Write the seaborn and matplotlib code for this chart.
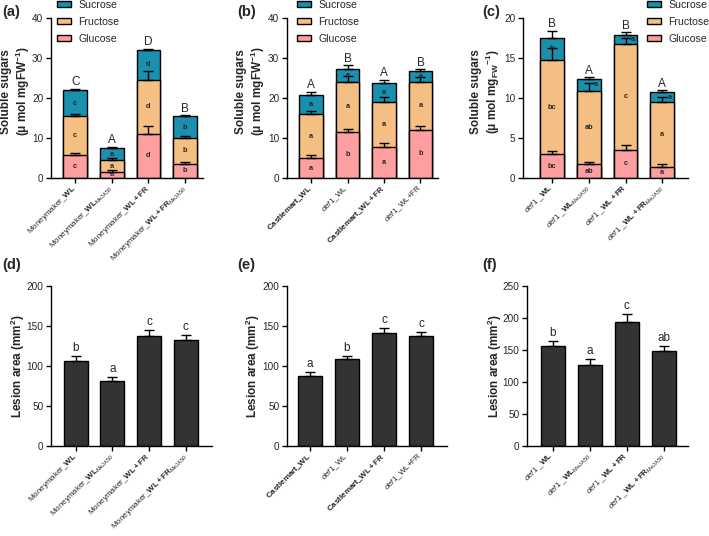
import matplotlib
matplotlib.use("Agg")
import matplotlib.pyplot as plt
from matplotlib.patches import Patch
import seaborn as sns
import numpy as np

sns.set_style("ticks")
plt.rcParams["font.family"] = ["Liberation Sans", "DejaVu Sans"]
plt.rcParams["mathtext.fontset"] = "custom"
plt.rcParams["mathtext.rm"] = "Liberation Sans"
plt.rcParams["mathtext.it"] = "Liberation Sans:italic"
plt.rcParams["mathtext.bf"] = "Liberation Sans:bold"

SUC_C = "#1b8fae"
FRU_C = "#f5bf84"
GLU_C = "#fd9fa1"
LES_C = "#333333"

# ---- tick labels ----
mm_labels = ["Moneymaker_$\\mathbf{WL}$",
             "Moneymaker_$\\mathbf{WL}_{\\mathrm{MeJA50}}$",
             "Moneymaker_$\\mathbf{WL+FR}$",
             "Moneymaker_$\\mathbf{WL+FR}_{\\mathrm{MeJA50}}$"]
cm_labels = ["$\\mathbf{Castlemart\\_WL}$",
             "$\\mathit{def1}$_WL",
             "$\\mathbf{Castlemart\\_WL+FR}$",
             "$\\mathit{def1}$_WL+FR"]
def_labels = ["$\\mathit{def1}$ _$\\mathbf{WL}$",
              "$\\mathit{def1}$ _$\\mathbf{WL}_{\\mathrm{MeJA50}}$",
              "$\\mathit{def1}$ _$\\mathbf{WL+FR}$",
              "$\\mathit{def1}$ _$\\mathbf{WL+FR}_{\\mathrm{MeJA50}}$"]

# ---- (a) sugars, Moneymaker ----
a_glu = [5.8, 1.6, 11.1, 3.6]
a_fru = [9.6, 2.8, 13.5, 6.3]
a_suc = [6.5, 3.1, 7.3, 5.5]
a_glu_err = [0.45, 0.4, 2.0, 0.4]
a_fru_err = [0.6, 0.5, 2.1, 0.5]
a_suc_err = [0.35, 0.3, 0.4, 0.3]
a_in = [["c", "c", "c"], ["a", "a", "a"], ["d", "d", "d"], ["b", "b", "b"]]
a_top = ["C", "A", "D", "B"]

# ---- (b) sugars, Castlemart / def1 ----
b_glu = [5.0, 11.5, 7.8, 12.1]
b_fru = [10.9, 12.6, 11.2, 12.0]
b_suc = [4.8, 3.2, 4.8, 2.65]
b_glu_err = [0.8, 0.8, 1.0, 0.9]
b_fru_err = [0.8, 1.3, 1.25, 1.15]
b_suc_err = [0.8, 0.9, 0.8, 0.45]
b_in = [["a", "a", "a"], ["b", "a", "a"], ["a", "a", "a"], ["b", "a", "a"]]
b_top = ["A", "B", "A", "B"]

# ---- (c) sugars, def1 ----
c_glu = [2.95, 1.7, 3.55, 1.4]
c_fru = [11.75, 9.2, 13.25, 8.1]
c_suc = [2.85, 1.45, 1.1, 1.2]
c_glu_err = [0.38, 0.3, 0.55, 0.4]
c_fru_err = [1.55, 1.0, 0.75, 0.65]
c_suc_err = [0.85, 0.25, 0.3, 0.25]
c_in = [["bc", "bc", "b"], ["ab", "ab", "a"], ["c", "c", "a"], ["a", "a", "a"]]
c_top = ["B", "A", "B", "A"]

# ---- lesion area ----
d_vals = [106.5, 81, 138, 133]
d_err = [5.5, 5.5, 7, 6]
d_let = ["b", "a", "c", "c"]
e_vals = [87.5, 108.5, 141, 137]
e_err = [5.5, 4.5, 6.5, 5.5]
e_let = ["a", "b", "c", "c"]
f_vals = [156, 126.5, 194, 149]
f_err = [7.5, 9.5, 11.5, 7]
f_let = ["b", "a", "c", "ab"]

W, H = 709, 536
fig = plt.figure(figsize=(W / 100, H / 100), dpi=100)


def box(l, r, top, bot):
    return [l / W, 1 - bot / H, (r - l) / W, (bot - top) / H]


def style(ax, labels, xlim, ylim, yticks, ylabel, lab_xy):
    sns.despine(ax=ax)
    for s in ["left", "bottom"]:
        ax.spines[s].set_linewidth(1.0)
        ax.spines[s].set_color("black")
    ax.set_xlim(*xlim)
    ax.set_ylim(*ylim)
    ax.set_yticks(yticks)
    ax.set_xticks(range(4))
    ax.set_xticklabels(labels, rotation=45, ha="right", va="center",
                       rotation_mode="anchor", fontsize=5.8)
    ax.tick_params(axis="both", length=3.5, width=1, color="black")
    ax.tick_params(axis="y", labelsize=7.2, pad=2)
    ax.tick_params(axis="x", pad=3)
    ax.set_xlabel("")
    ax.set_ylabel(ylabel, fontsize=8.5, fontweight="bold", linespacing=1.15)
    ax.yaxis.set_label_coords(*lab_xy)


def stacked(ax, glu, fru, suc, errs, inner, top, labels, xlim, ylim, yticks,
            ylabel, lab_xy, inner_dx=None):
    cats = ["g%d" % i for i in range(4)]
    c1 = np.array(glu)
    c2 = c1 + np.array(fru)
    c3 = c2 + np.array(suc)
    for vals, col in [(c3, SUC_C), (c2, FRU_C), (c1, GLU_C)]:
        sns.barplot(x=cats, y=vals, color=col, width=0.65, saturation=1,
                    edgecolor="black", linewidth=1, errorbar=None, ax=ax)
    xs = np.arange(4)
    for tops, err in zip([c1, c2, c3], errs):
        ax.errorbar(xs, tops, yerr=[np.zeros(4), err], fmt="none",
                    ecolor="black", elinewidth=1, capsize=3.6, capthick=1,
                    zorder=5)
    bottoms = [np.zeros(4), c1, c2]
    for i in range(4):
        for j, (b, t) in enumerate(zip(bottoms, [c1, c2, c3])):
            dx = 0
            if inner_dx is not None and j == 2:
                dx = inner_dx[i]
            ax.text(i + dx, (b[i] + t[i]) / 2, inner[i][j], ha="center",
                    va="center", fontsize=5.3, fontweight="bold", zorder=6)
        ax.annotate(top[i], (i, c3[i] + errs[2][i]), xytext=(0, 0.5),
                    textcoords="offset points", ha="center", va="bottom",
                    fontsize=8.5)
    style(ax, labels, xlim, ylim, yticks, ylabel, lab_xy)


def lesion(ax, vals, err, letters, labels, xlim, ylim, yticks, lab_xy):
    cats = ["g%d" % i for i in range(4)]
    sns.barplot(x=cats, y=vals, color=LES_C, width=0.65, saturation=1,
                edgecolor="black", linewidth=1, errorbar=None, ax=ax)
    xs = np.arange(4)
    ax.errorbar(xs, vals, yerr=[np.zeros(4), err], fmt="none", ecolor="black",
                elinewidth=1, capsize=3.6, capthick=1, zorder=5)
    for i in range(4):
        ax.annotate(letters[i], (i, vals[i] + err[i]), xytext=(0, 1.5),
                    textcoords="offset points", ha="center", va="bottom",
                    fontsize=8.5)
    style(ax, labels, xlim, ylim, yticks, "Lesion area (mm$^{\\mathbf{2}}$)",
          lab_xy)


sugar_label = "Soluble sugars\n(\u03bc mol mgFW$^{\\mathbf{-1}}$)"
sugar_label_c = "Soluble sugars\n(\u03bc mol mg$_{\\mathbf{FW}}$$^{\\mathbf{-1}}$)"

ax_a = fig.add_axes(box(51, 203, 18, 178))
stacked(ax_a, a_glu, a_fru, a_suc, [a_glu_err, a_fru_err, a_suc_err], a_in,
        a_top, mm_labels, (-0.66, 3.49), (0, 40), [0, 10, 20, 30, 40],
        sugar_label, (-0.124, 0.54))

ax_b = fig.add_axes(box(287, 438, 18, 178))
stacked(ax_b, b_glu, b_fru, b_suc, [b_glu_err, b_fru_err, b_suc_err], b_in,
        b_top, cm_labels, (-0.66, 3.48), (0, 40), [0, 10, 20, 30, 40],
        sugar_label, (-0.131, 0.54))

ax_c = fig.add_axes(box(523, 688, 18, 178))
stacked(ax_c, c_glu, c_fru, c_suc, [c_glu_err, c_fru_err, c_suc_err], c_in,
        c_top, def_labels, (-0.79, 3.7), (0, 20), [0, 5, 10, 15, 20],
        sugar_label_c, (-0.126, 0.54), inner_dx=[0, 0.2, 0.2, 0.2])

ax_d = fig.add_axes(box(51, 212, 286, 446))
lesion(ax_d, d_vals, d_err, d_let, mm_labels, (-0.67, 3.71), (0, 200),
       [0, 50, 100, 150, 200], (-0.149, 0.5))

ax_e = fig.add_axes(box(287, 447, 286, 446))
lesion(ax_e, e_vals, e_err, e_let, cm_labels, (-0.62, 3.7), (0, 200),
       [0, 50, 100, 150, 200], (-0.155, 0.5))

ax_f = fig.add_axes(box(527, 688, 286, 446))
lesion(ax_f, f_vals, f_err, f_let, def_labels, (-0.69, 3.66), (0, 250),
       [0, 50, 100, 150, 200, 250], (-0.145, 0.5))

# legends
handles = [Patch(facecolor=SUC_C, edgecolor="black", linewidth=1),
           Patch(facecolor=FRU_C, edgecolor="black", linewidth=1),
           Patch(facecolor=GLU_C, edgecolor="black", linewidth=1)]
names = ["Sucrose", "Fructose", "Glucose"]
for ax, xl in [(ax_a, 57), (ax_b, 297), (ax_c, 647)]:
    ax.legend(handles, names, loc="upper left",
              bbox_to_anchor=(xl / W, 1 - 0 / H), bbox_transform=fig.transFigure,
              frameon=False, fontsize=7.6, handlelength=1.3, handleheight=0.5,
              handletextpad=0.7, labelspacing=0.65, borderpad=0,
              borderaxespad=0)

# panel letters
for lab, x, y in [("(a)", 2, 12), ("(b)", 237, 12), ("(c)", 482, 12),
                  ("(d)", 2, 265), ("(e)", 237, 265), ("(f)", 482, 265)]:
    fig.text(x / W, 1 - y / H, lab, fontsize=10.5, fontweight="bold",
             va="center", ha="left")

fig.savefig("out.png", dpi=100)
